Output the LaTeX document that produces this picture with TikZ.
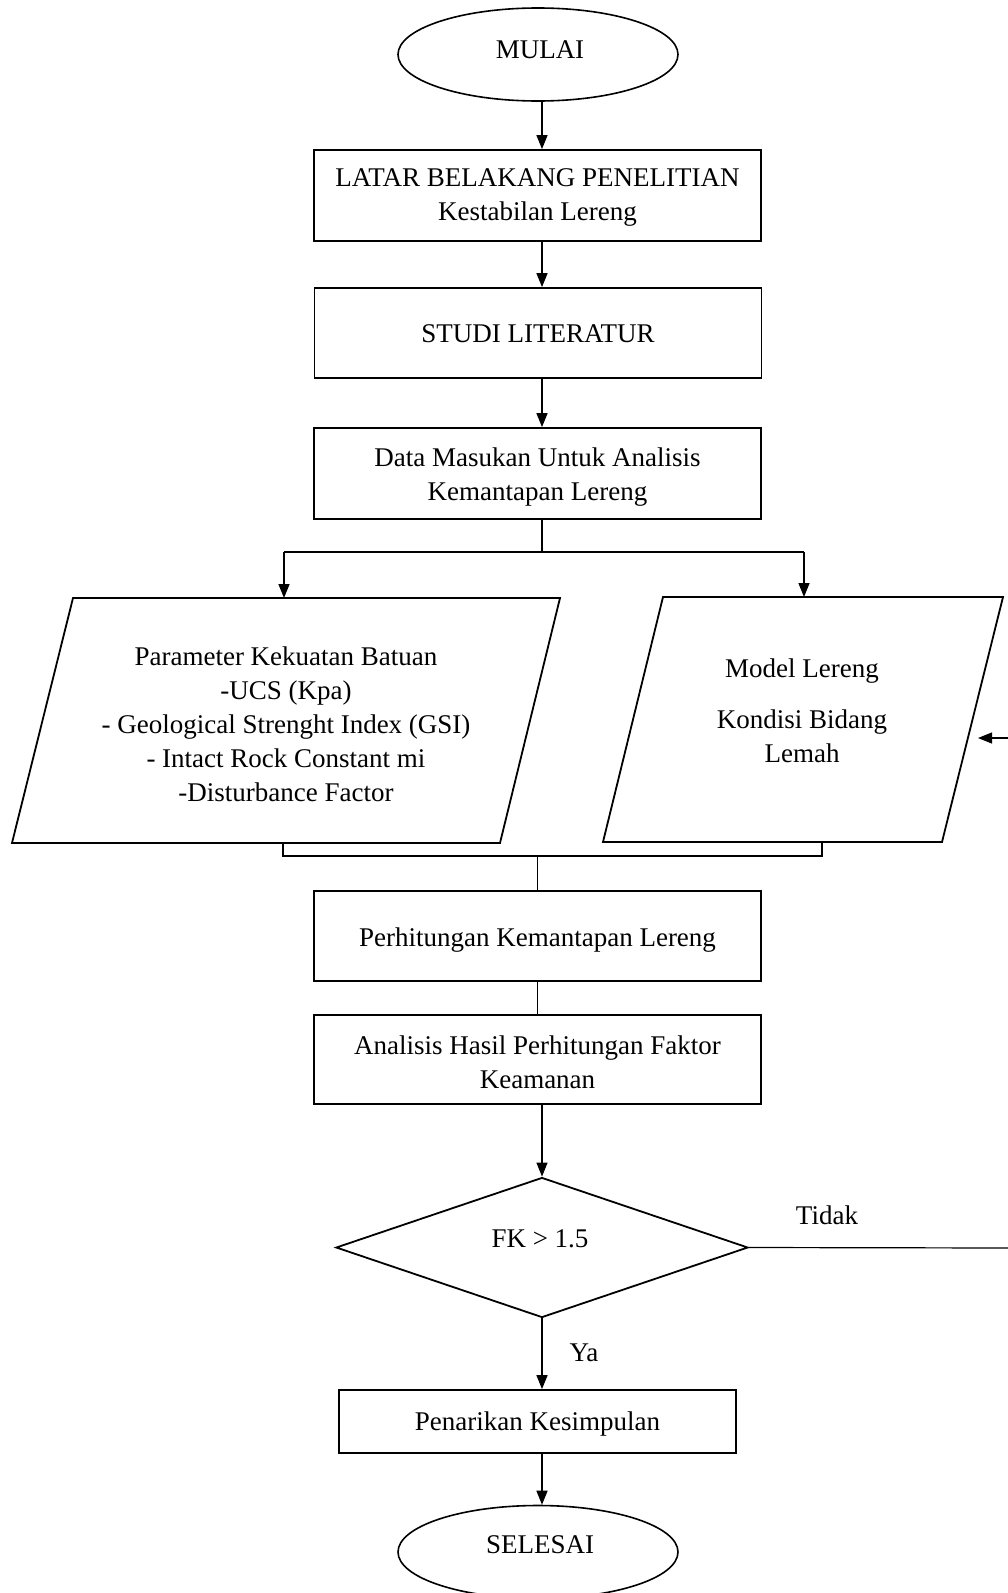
\documentclass[tikz,border=0pt]{standalone}
\usepackage{fontspec}
\setmainfont{Liberation Serif}
\usetikzlibrary{shapes.geometric,arrows.meta}
\begin{document}
\begin{tikzpicture}[x=1pt,y=-1pt,
  every node/.style={font=\fontsize{27}{34}\selectfont, inner sep=0pt},
  boxnode/.style={draw, line width=1.8pt, rectangle, minimum width=447pt},
  termnode/.style={draw, line width=1.6pt, ellipse, minimum width=280pt, minimum height=93pt},
  decnode/.style={draw, line width=1.8pt, diamond, aspect=2.94, minimum width=412pt, minimum height=140pt},
  plbox/.style={draw, line width=1.8pt, line join=miter},
  arr/.style={line width=1.5pt, -{Triangle[length=14pt,width=11pt]}},
  thinarr/.style={line width=1.2pt, -{Triangle[length=14pt,width=11pt]}},
  conn/.style={line width=1.8pt},
  thinconn/.style={line width=1.2pt},
  lbl/.style={font=\fontsize{27}{34}\selectfont, align=center}
]
\useasboundingbox (0,0) rectangle (1007,1593);

% Terminals and boxes
\node[termnode] (mulai) at (538,54.5) {};
\node[lbl] (mulait) at (540,50) {MULAI};
\node[boxnode, minimum height=91pt] (b1) at (537.5,195.5) {};
\node[lbl] (b1t) at (537.5,197) {LATAR BELAKANG PENELITIAN\\Kestabilan Lereng};
\node[boxnode, minimum height=90pt] (b2) at (538,333) {};
\node[lbl] (b2t) at (538,334) {STUDI LITERATUR};
\node[boxnode, minimum height=91pt] (b3) at (537.5,473.5) {};
\node[lbl] (b3t) at (537.5,477) {Data Masukan Untuk Analisis\\Kemantapan Lereng};

% Parallelograms
\coordinate (lA) at (73,598);  \coordinate (lB) at (560,598);
\coordinate (lC) at (500,843); \coordinate (lD) at (12,843);
\draw[plbox] (lA) -- (lB) -- (lC) -- (lD) -- cycle;
\node[lbl] (ptext) at (286,724) {Parameter Kekuatan Batuan\\-UCS (Kpa)\\- Geological Strenght Index (GSI)\\- Intact Rock Constant mi\\-Disturbance Factor};

\coordinate (rA) at (663,597);  \coordinate (rB) at (1003,597);
\coordinate (rC) at (942,842);  \coordinate (rD) at (603,842);
\draw[plbox] (rA) -- (rB) -- (rC) -- (rD) -- cycle;
\node[lbl] (mtext) at (802,711) {Model Lereng\\[17pt]Kondisi Bidang\\Lemah};

\node[boxnode, minimum height=90pt] (b4) at (537.5,936) {};
\node[lbl] (b4t) at (537.5,940) {Perhitungan Kemantapan Lereng};
\node[boxnode, minimum height=89pt] (b5) at (537.5,1059.5) {};
\node[lbl] (b5t) at (537.5,1062) {Analisis Hasil Perhitungan Faktor\\Keamanan};
\node[decnode] (d) at (542,1247.5) {};
\node[lbl] (dt) at (540,1239) {FK > 1.5};
\node[boxnode, minimum width=397pt, minimum height=63pt] (b6) at (537.5,1421.5) {};
\node[lbl] (b6t) at (537.5,1424) {Penarikan Kesimpulan};
\node[termnode] (selesai) at (538,1552) {};
\node[lbl] (selesait) at (540,1545) {SELESAI};

% Connectors
\draw[arr] ([xshift=4pt]mulai.south) -- ([xshift=4.5pt]b1.north);
\draw[arr] ([xshift=4.5pt]b1.south) -- ([xshift=4pt]b2.north);
\draw[arr] ([xshift=4pt]b2.south) -- ([xshift=4.5pt]b3.north);

\coordinate (splitL) at (284,552);
\coordinate (splitR) at (804,552);
\coordinate (lTop) at (284,598);
\coordinate (rTop) at (804,597);
\draw[conn] ([xshift=4.5pt]b3.south) -- ([xshift=4.5pt]b3.south |- splitL);
\draw[conn] (splitL) -- (splitR);
\draw[arr] (splitL) -- (lTop);
\draw[arr] (splitR) -- (rTop);

\coordinate (lBot) at (283,843);
\coordinate (rBot) at (822,842);
\coordinate (mL) at (283,856);
\coordinate (mR) at (822,856);
\draw[conn] (lBot) -- (mL) -- (mR) -- (rBot);
\draw[thinconn] (b4.north |- mL) -- (b4.north);
\draw[thinconn] (b4.south) -- (b5.north);

\draw[thinarr] ([xshift=4.5pt]b5.south) -- (d.north);
\draw[arr] (d.south) -- ([xshift=4.5pt]b6.north);
\draw[arr] ([xshift=4.5pt]b6.south) -- ([xshift=4pt]selesai.north);

\node[lbl] (ya) at (584,1353) {Ya};
\node[lbl] (tidak) at (827,1215) {Tidak};

\coordinate (fbA) at (1013,1248);
\coordinate (fbB) at (1013,738);
\coordinate (fbTip) at (978,738);
\draw[thinconn] (d.east) -- (fbA) -- (fbB);
\draw[thinarr] (fbB) -- (fbTip);
\end{tikzpicture}
\end{document}
